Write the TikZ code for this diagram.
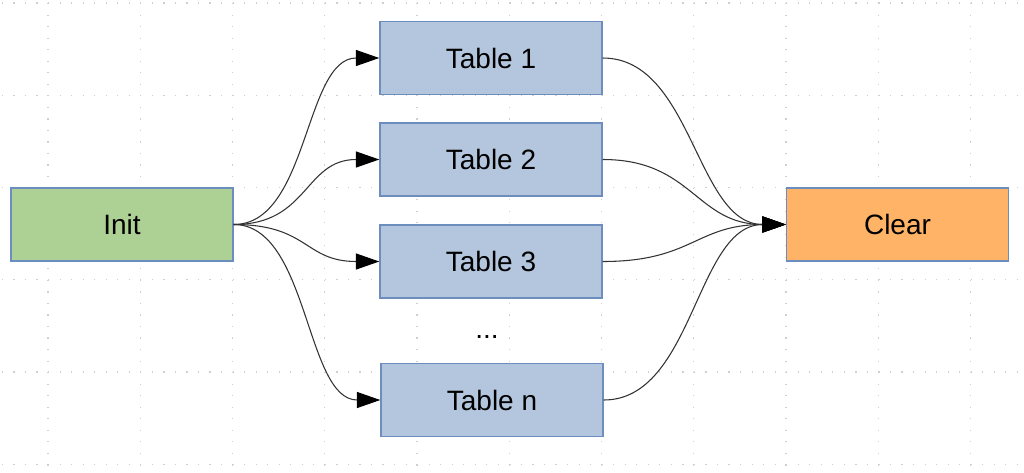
\documentclass[tikz,border=0pt]{standalone}
\usepackage{fontspec}
\setmainfont{Liberation Sans}
\usetikzlibrary{arrows.meta}
\definecolor{initfill}{HTML}{ADD094}
\definecolor{tabfill}{HTML}{B3C6DE}
\definecolor{clrfill}{HTML}{FFB366}
\definecolor{boxline}{HTML}{6C8EBF}
\definecolor{gridc}{HTML}{CFCFCF}
\definecolor{linec}{HTML}{333333}
\tikzset{
  box/.style={draw=boxline, line width=1.1pt, minimum width=166.5pt, minimum height=54.75pt,
    inner sep=0pt, font=\fontsize{21pt}{24pt}\selectfont, text=black},
  initbox/.style={box, fill=initfill},
  tabbox/.style={box, fill=tabfill},
  clrbox/.style={box, fill=clrfill},
  conn/.style={draw=linec, line width=0.8pt, -{Triangle[length=17.5pt,width=12pt,fill=black,color=black]}},
  gridline/.style={draw=gridc, line width=0.9pt, dash pattern=on 0.9pt off 7.75pt},
}
\begin{document}
\begin{tikzpicture}[x=0.75pt,y=-0.75pt]
\useasboundingbox (0,0) rectangle (1024,472);
\begin{scope}
\clip (0,0) rectangle (1024,472);
\foreach \i in {0,...,11} {
  \draw[gridline] ({-44.3+92.25*\i},-89.25) -- ({-44.3+92.25*\i},560);
}
\foreach \j in {0,...,6} {
  \draw[gridline] (-44.3,{-89.25+92.25*\j}) -- (1100,{-89.25+92.25*\j});
}
\end{scope}
\node[initbox] (init) at (122,224.5) {Init};
\node[tabbox] (t1) at (491,58) {Table 1};
\node[tabbox] (t2) at (491,159.5) {Table 2};
\node[tabbox] (t3) at (491,261.5) {Table 3};
\node[font=\fontsize{21pt}{24pt}\selectfont] (dots) at (487,337) {...};
\node[tabbox] (tn) at (492,400) {Table n};
\node[clrbox] (clr) at (897.5,224.5) {Clear};
\foreach \t in {t1,t2,t3,tn} {
  \draw[conn] (init.east) .. controls +(75,0) and +(-75,0) .. (\t.west);
  \draw[conn] (\t.east) .. controls +(90,0) and +(-90,0) .. (clr.west);
}
\end{tikzpicture}
\end{document}
